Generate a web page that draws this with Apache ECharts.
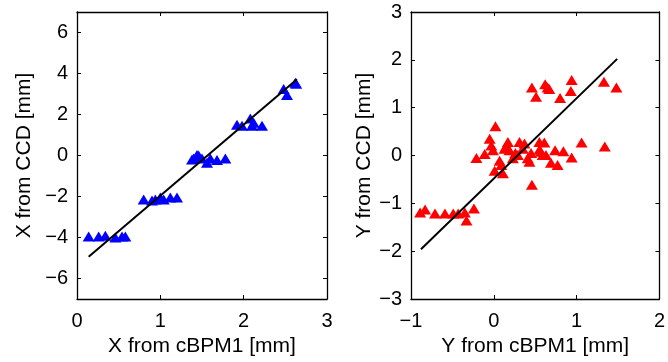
<!DOCTYPE html>
<html>
<head>
<meta charset="utf-8">
<script src="https://cdn.jsdelivr.net/npm/echarts@6/dist/echarts.min.js"></script>
<style>html,body{margin:0;padding:0;background:#fff}#c{width:668px;height:362px}</style>
</head>
<body>
<div id="c"></div>
<script>
// Left panel: X from cBPM1 vs X from CCD
const leftX = [0.14,0.26,0.34,0.46,0.54,0.58, 0.80,0.90,0.94,1.00,1.04,1.12,1.20, 1.38,1.40,1.44,1.46,1.50,1.56,1.60,1.68,1.78, 1.92,1.98,2.08,2.10,2.12,2.22, 2.48,2.52,2.62,2.63];
const leftY = [-3.95,-3.95,-3.92,-4.0,-3.95,-3.95, -2.15,-2.2,-2.15,-2.05,-2.15,-2.05,-2.05, -0.2,-0.15,0.02,0.0,-0.15,-0.35,-0.15,-0.22,-0.15, 1.5,1.45,1.8,1.45,1.6,1.45, 3.25,2.95,3.55,3.5];
const leftFitX = [0.14, 2.64];
const leftFitY = [-4.94, 3.72];

// Right panel: Y from cBPM1 vs Y from CCD
const rightX = [-0.89,-0.83,-0.71,-0.59,-0.49,-0.43,-0.35,-0.33,-0.24,
  -0.21,-0.11,-0.05,-0.03,-0.01,0.02,0.01,0.07,0.09,0.11,0.13,0.17,0.19,0.23,0.29,0.31,0.35,0.37,0.41,0.43,0.46,0.55,0.57,0.59,0.61,0.63,0.69,0.74,0.77,0.84,0.94,1.06,1.34,0.15,0.26,0.45,0.55,
  0.46,0.51,0.62,0.65,0.67,0.80,0.93,0.94,1.33,1.48];
const rightY = [-1.19,-1.13,-1.21,-1.21,-1.21,-1.21,-1.19,-1.36,-1.11,
  -0.05,0.03,0.35,0.21,0.11,0.61,-0.32,-0.11,-0.2,-0.37,0.14,0.28,0.11,-0.06,0.01,0.28,0.14,0.25,-0.06,-0.13,-0.61,0.28,0.08,0.01,0.27,0.01,-0.15,0.11,-0.2,0.09,-0.04,0.27,0.19,0.2,0.05,0.05,0.12,
  1.42,1.23,1.49,1.42,1.39,1.2,1.35,1.58,1.54,1.42];
const rightFitX = [-0.88, 1.49];
const rightFitY = [-1.96, 2.02];

const xTicksL = [0,1,2,3], yTicksL = [-6,-4,-2,0,2,4,6];
const xTicksR = [-1,0,1,2], yTicksR = [-3,-2,-1,0,1,2,3];

const FONT = 'Liberation Sans, Arial, Helvetica, sans-serif';
const fmt = v => String(v).replace('-', '\u2212');
const zip = (a,b) => a.map((v,i)=>[v,b[i]]);

function xAx(grid, ticks, name, show) {
  return {
    type:'value', gridIndex:grid, min:ticks[0], max:ticks[ticks.length-1], interval:1,
    position: show ? 'bottom' : 'top',
    axisLine:{show:true, onZero:false, lineStyle:{color:'#000', width:1.3}},
    axisTick:{show:true, inside:true, length:4, lineStyle:{color:'#000', width:1}},
    axisLabel:{show:show, color:'#000', fontSize:20, fontFamily:FONT, margin:12, formatter:fmt},
    splitLine:{show:false},
    name: show ? name : '', nameLocation:'middle', nameGap:37,
    nameTextStyle:{color:'#000', fontSize:21, fontFamily:FONT}
  };
}
function yAx(grid, min, max, ticks, name, show, gap) {
  return {
    type:'value', gridIndex:grid, min:min, max:max, interval:1,
    position: show ? 'left' : 'right',
    axisLine:{show:true, onZero:false, lineStyle:{color:'#000', width:1.3}},
    axisTick:{show:true, inside:true, length:4, customValues:ticks, lineStyle:{color:'#000', width:1}},
    axisLabel:{show:show, color:'#000', fontSize:20, fontFamily:FONT, margin:9, customValues:ticks, formatter:fmt},
    splitLine:{show:false},
    name: show ? name : '', nameLocation:'middle', nameGap:gap, nameRotate:90,
    nameTextStyle:{color:'#000', fontSize:21, fontFamily:FONT}
  };
}

const option = {
  animation:false,
  backgroundColor:'#fff',
  grid:[
    {left:77, top:12, width:250, height:290, containLabel:false},
    {left:411, top:12, width:249, height:290, containLabel:false}
  ],
  xAxis:[
    xAx(0, xTicksL, 'X from cBPM1 [mm]', true),
    xAx(0, xTicksL, '', false),
    xAx(1, xTicksR, 'Y from cBPM1 [mm]', true),
    xAx(1, xTicksR, '', false)
  ],
  yAxis:[
    yAx(0, -7, 7, yTicksL, 'X from CCD [mm]', true, 42),
    yAx(0, -7, 7, yTicksL, '', false, 0),
    yAx(1, -3, 3, yTicksR, 'Y from CCD [mm]', true, 36),
    yAx(1, -3, 3, yTicksR, '', false, 0)
  ],
  series:[
    {type:'scatter', xAxisIndex:0, yAxisIndex:0, data:zip(leftX,leftY), symbol:'triangle', symbolSize:[12,10], itemStyle:{color:'#0000ff', opacity:1}},
    {type:'line', xAxisIndex:0, yAxisIndex:0, data:zip(leftFitX,leftFitY), symbol:'none', lineStyle:{color:'#000', width:2}},
    {type:'scatter', xAxisIndex:2, yAxisIndex:2, data:zip(rightX,rightY), symbol:'triangle', symbolSize:[12,10], itemStyle:{color:'#ff0000', opacity:1}},
    {type:'line', xAxisIndex:2, yAxisIndex:2, data:zip(rightFitX,rightFitY), symbol:'none', lineStyle:{color:'#000', width:2}}
  ]
};
echarts.init(document.getElementById('c'), null, {renderer:'canvas'}).setOption(option);
</script>
</body>
</html>
